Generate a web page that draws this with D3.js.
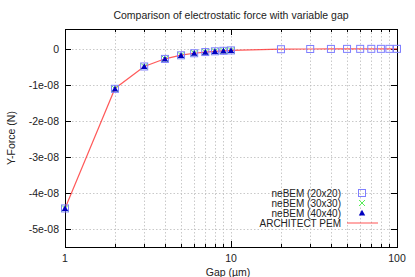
<!DOCTYPE html>
<html>
<head>
<meta charset="utf-8">
<script src="https://cdn.jsdelivr.net/npm/d3@7"></script>
<style>
  body { margin: 0; background: #fff; }
  text { font-family: "Liberation Sans", Arial, sans-serif; fill: #222; }
</style>
</head>
<body>
<svg id="chart" width="415" height="277"></svg>
<script>
"use strict";

// gap values in um
var gaps = [1, 2, 3, 4, 5, 6, 7, 8, 9, 10, 20, 30, 40, 50, 60, 70, 80, 90, 100];
var gapsFine = [1, 2, 3, 4, 5, 6, 7, 8, 9, 10];

// Y-force (N)
var force20 = [-4.43e-8, -1.11e-8, -0.49e-8, -0.28e-8, -0.18e-8, -0.123e-8, -0.09e-8, -0.069e-8,
    -0.055e-8, -0.044e-8, -0.011e-8, -0.005e-8, -0.003e-8, -0.002e-8, -0.0012e-8, -0.0009e-8,
    -0.0007e-8, -0.0005e-8, -0.0004e-8];
var force30 = [-4.43e-8, -1.11e-8, -0.49e-8, -0.28e-8, -0.18e-8, -0.123e-8, -0.09e-8, -0.069e-8,
    -0.055e-8, -0.044e-8];
var force40 = [-4.43e-8, -1.11e-8, -0.49e-8, -0.28e-8, -0.18e-8, -0.123e-8, -0.09e-8, -0.069e-8,
    -0.055e-8, -0.044e-8];
var forcePem = [-4.43e-8, -1.10e-8, -0.49e-8, -0.277e-8, -0.177e-8, -0.123e-8, -0.09e-8, -0.069e-8,
    -0.055e-8, -0.044e-8, -0.011e-8, -0.005e-8, -0.003e-8, -0.002e-8, -0.0012e-8, -0.0009e-8,
    -0.0007e-8, -0.0005e-8, -0.0004e-8];

var yTicks = [0, -1e-8, -2e-8, -3e-8, -4e-8, -5e-8];
var yTickLabels = ["0", "-1e-08", "-2e-08", "-3e-08", "-4e-08", "-5e-08"];
var xMajor = [1, 10, 100];
var xMinor = [2, 3, 4, 5, 6, 7, 8, 9, 20, 30, 40, 50, 60, 70, 80, 90];

var legendNames = ["neBEM (20x20)", "neBEM (30x30)", "neBEM (40x40)", "ARCHITECT PEM"];

(function () {
    var colSquare = "#7f7fff", colCross = "#55ee55", colTri = "#0000c0", colLine = "#ff3030";

    var pl = 65, pr = 397, pt = 29, pb = 247;
    var svg = d3.select("#chart");

    var x = d3.scaleLog().domain([1, 100]).range([pl, pr]);
    var y = d3.scaleLinear().domain([-5.5e-8, 0.55e-8]).range([pb, pt]);

    // grid
    var grid = svg.append("g").attr("stroke", "#bbb").attr("stroke-width", 0.8)
        .attr("stroke-dasharray", "1.5,2");
    grid.selectAll("line.gx")
        .data(xMajor.concat(xMinor).filter(function (d) { return d > 1 && d < 100; }))
      .enter().append("line")
        .attr("x1", function (d) { return Math.round(x(d)) + 0.5; })
        .attr("x2", function (d) { return Math.round(x(d)) + 0.5; })
        .attr("y1", pt).attr("y2", pb);
    grid.selectAll("line.gy")
        .data(yTicks)
      .enter().append("line")
        .attr("y1", function (d) { return Math.round(y(d)) + 0.5; })
        .attr("y2", function (d) { return Math.round(y(d)) + 0.5; })
        .attr("x1", pl).attr("x2", pr);

    // ticks on all four sides
    var ticks = svg.append("g").attr("stroke", "#000").attr("stroke-width", 1);
    function xTick(d, len) {
        var px = Math.round(x(d)) + 0.5;
        ticks.append("line").attr("x1", px).attr("x2", px).attr("y1", pb).attr("y2", pb - len);
        ticks.append("line").attr("x1", px).attr("x2", px).attr("y1", pt).attr("y2", pt + len);
    }
    xMajor.forEach(function (d) { xTick(d, 6); });
    xMinor.forEach(function (d) { xTick(d, 3); });
    yTicks.forEach(function (d) {
        var py = Math.round(y(d)) + 0.5;
        ticks.append("line").attr("x1", pl).attr("x2", pl + 6).attr("y1", py).attr("y2", py);
        ticks.append("line").attr("x1", pr).attr("x2", pr - 6).attr("y1", py).attr("y2", py);
    });

    // frame
    svg.append("rect")
        .attr("x", pl + 0.5).attr("y", pt + 0.5)
        .attr("width", pr - pl).attr("height", pb - pt)
        .attr("fill", "none").attr("stroke", "#000").attr("stroke-width", 1);

    // tick labels
    svg.selectAll("text.ylab")
        .data(yTicks)
      .enter().append("text")
        .attr("x", pl - 6)
        .attr("y", function (d) { return y(d) + 4; })
        .attr("text-anchor", "end")
        .style("font-size", "10.5px")
        .text(function (d, i) { return yTickLabels[i]; });
    svg.selectAll("text.xlab")
        .data(xMajor)
      .enter().append("text")
        .attr("x", function (d) { return x(d); })
        .attr("y", 262)
        .attr("text-anchor", "middle")
        .style("font-size", "10.5px")
        .text(function (d) { return d; });

    // titles
    svg.append("text").attr("x", (pl + pr) / 2).attr("y", 19)
        .attr("text-anchor", "middle").style("font-size", "10.5px")
        .text("Comparison of electrostatic force with variable gap");
    svg.append("text").attr("x", (pl + pr) / 2 - 3).attr("y", 276)
        .attr("text-anchor", "middle").style("font-size", "10.5px")
        .text("Gap (\u00b5m)");
    svg.append("text")
        .attr("transform", "translate(15," + ((pt + pb) / 2) + ") rotate(-90)")
        .attr("text-anchor", "middle").style("font-size", "10.5px")
        .text("Y-Force (N)");

    // PEM line
    var line = d3.line()
        .x(function (d) { return x(d[0]); })
        .y(function (d) { return y(d[1]); });
    svg.append("path")
        .datum(d3.zip(gaps, forcePem))
        .attr("d", line)
        .attr("fill", "none")
        .attr("stroke", colLine)
        .attr("stroke-opacity", 0.8)
        .attr("stroke-width", 1.2);

    // markers
    function square(g, cx, cy) {
        g.append("rect").attr("x", cx - 3.5).attr("y", cy - 3.5).attr("width", 7).attr("height", 7)
            .attr("fill", "none")
            .attr("stroke", colSquare).attr("stroke-width", 1);
    }
    function cross(g, cx, cy) {
        g.append("path").attr("d", "M" + (cx - 3) + "," + (cy - 3) + "L" + (cx + 3) + "," + (cy + 3) +
            "M" + (cx - 3) + "," + (cy + 3) + "L" + (cx + 3) + "," + (cy - 3))
            .attr("stroke", colCross).attr("stroke-width", 1).attr("fill", "none");
    }
    function tri(g, cx, cy) {
        g.append("path").attr("d", "M" + cx + "," + (cy - 3.2) + "L" + (cx + 3.2) + "," + (cy + 2.6) +
            "L" + (cx - 3.2) + "," + (cy + 2.6) + "Z")
            .attr("fill", colTri);
    }

    var marks = svg.append("g");
    gaps.forEach(function (g, i) { square(marks, x(g), y(force20[i])); });
    gapsFine.forEach(function (g, i) { cross(marks, x(g), y(force30[i])); });
    gapsFine.forEach(function (g, i) { tri(marks, x(g), y(force40[i])); });

    // legend
    var legend = svg.append("g");
    legendNames.forEach(function (name, i) {
        var ly = 193 + i * 10;
        legend.append("text").attr("x", 341).attr("y", ly + 4)
            .attr("text-anchor", "end").style("font-size", "10px").text(name);
        if (i === 0) square(legend, 362, ly);
        if (i === 1) cross(legend, 362, ly);
        if (i === 2) tri(legend, 362, ly);
        if (i === 3) {
            legend.append("line").attr("x1", 347).attr("x2", 378).attr("y1", ly).attr("y2", ly)
                .attr("stroke", colLine).attr("stroke-opacity", 0.55).attr("stroke-width", 1.5);
        }
    });
})();
</script>
</body>
</html>
